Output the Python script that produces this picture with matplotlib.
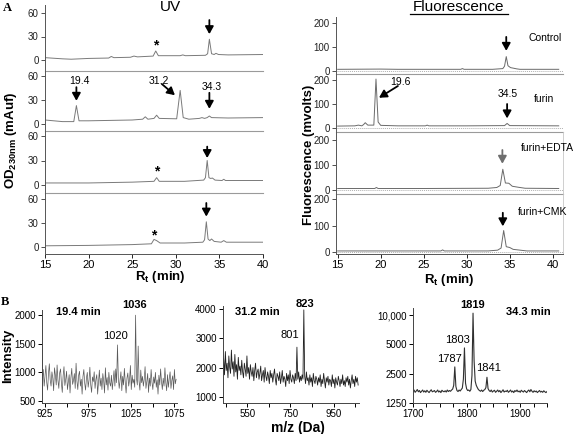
import numpy as np
import matplotlib
matplotlib.use("Agg")
import matplotlib.pyplot as plt
from matplotlib.lines import Line2D

plt.rcParams["font.family"] = ["Liberation Sans", "DejaVu Sans"]
plt.rcParams["mathtext.fontset"] = "custom"
plt.rcParams["mathtext.rm"] = "Liberation Sans"
plt.rcParams["mathtext.bf"] = "Liberation Sans:bold"
plt.rcParams["mathtext.it"] = "Liberation Sans:italic"

W, H = 578, 434

# ---- panel A: UV chromatograms (mAuf) ----
uv_labels = ["control", "furin", "furin+EDTA", "furin+CMK"]
uv1_t = [15, 17, 18, 20, 22.3, 22.6, 22.9, 24.8, 25.2, 25.6, 27.4, 27.7, 28.0, 30.5, 30.8, 31.1,
         33.4, 33.65, 33.85, 34.1, 34.4, 34.6, 34.9, 36, 40]
uv1_v = [3, 1.5, 1, 2, 2.5, 4.5, 3, 3.5, 5, 4, 5, 11.5, 5.5, 5.5, 6.5, 5.5,
         6, 8, 26.5, 8, 7, 8.5, 7, 6.5, 7]
uv2_t = [15, 17, 18.3, 18.6, 18.9, 20, 25, 26.2, 26.5, 26.8, 27.5, 27.8, 28.1, 30.1, 30.5, 30.85,
         31.5, 32.7, 33.0, 33.3, 33.6, 33.85, 34.1, 36, 40]
uv2_v = [5, 3, 3, 23, 4, 4, 5, 6, 9, 6, 7, 11, 7, 6.5, 42, 8,
         6, 7, 8, 7, 8, 10, 8, 7.5, 8]
uv3_t = [15, 20, 25, 27.5, 27.8, 28.1, 31, 33.2, 33.4, 33.6, 33.8, 34.0, 34.2, 34.5, 35.3, 35.5,
         35.7, 37, 40]
uv3_v = [2.5, 2.5, 3.5, 4.5, 9, 4.5, 4.5, 6, 9, 30, 9, 8, 8.5, 6, 5.5, 7,
         5.5, 5.5, 5.5]
uv4_t = [15, 20, 25, 27.2, 27.5, 27.8, 28.2, 31, 33.1, 33.3, 33.5, 33.7, 33.9, 34.1, 34.4, 35.2,
         35.5, 35.8, 37, 40]
uv4_v = [1.5, 2, 3, 4, 9.5, 8, 5, 5, 6, 9, 31.5, 10, 8, 10, 7, 6,
         8, 6, 6, 6]

# ---- panel A: fluorescence chromatograms (mvolts) ----
fl_labels = ["Control", "furin", "furin+EDTA", "furin+CMK"]
fl1_t = [15, 20, 22, 25, 29.3, 29.5, 29.7, 33, 34.2, 34.4, 34.6, 34.8, 35.1, 35.4, 35.8, 36.2, 38, 40.7]
fl1_v = [7, 8, 7, 7, 7, 10, 7, 7, 10, 20, 60, 22, 14, 12, 9, 7, 7, 7]
fl2_t = [15, 17, 17.4, 17.8, 18.0, 18.2, 18.5, 19.2, 19.45, 19.7, 20.0, 22, 25.2, 25.4, 25.6, 30,
         34.4, 34.7, 35.0, 40.7]
fl2_v = [8, 9, 12, 9, 14, 22, 12, 12, 204, 25, 11, 9, 9, 12, 9, 9,
         10, 19, 10, 9]
fl3_t = [15, 19.3, 19.5, 19.7, 25, 32.5, 33.5, 33.9, 34.2, 34.5, 34.9, 35.3, 36, 36.8, 40.7]
fl3_v = [6, 6, 10, 6, 6, 7, 10, 18, 83, 28, 27, 15, 11, 7, 6]
fl4_t = [15, 20, 27, 27.2, 27.4, 32.5, 33.6, 34.0, 34.3, 34.6, 35.0, 35.4, 36.2, 37, 40.7]
fl4_v = [4, 4, 4, 8, 4, 4, 7, 15, 81, 20, 17, 10, 7, 4, 4]

# ---- panel B: mass spectra ----
ms1_mz = np.arange(922, 1078)
ms1_int = [880, 1050, 760, 940, 1120, 820, 690, 980, 1150, 870,
           760, 1010, 900, 680, 1080, 950, 780, 1130, 860, 720,
           990, 1060, 810, 650, 940, 1100, 770, 880, 1020, 700,
           830, 960, 640, 910, 1070, 790, 860, 980, 720, 1160,
           850, 700, 950, 1020, 760, 880, 620, 930, 1050, 810,
           690, 900, 1000, 740, 860, 1090, 780, 650, 920, 840,
           1010, 720, 880, 960, 620, 830, 1040, 760, 900, 700,
           980, 850, 640, 1080, 780, 910, 690, 1000, 820, 760,
           950, 700, 870, 1030, 760, 1060, 820, 1480, 900, 720,
           860, 1010, 680, 930, 780, 1070, 830, 640, 900, 990,
           760, 870, 1120, 700, 950, 810, 880, 740, 2000, 900,
           780, 1460, 850, 690, 1040, 820, 930, 760, 880, 1100,
           720, 840, 980, 650, 900, 760, 1050, 830, 700, 920,
           810, 1000, 740, 870, 620, 950, 780, 1060, 840, 700,
           900, 760, 1080, 820, 680, 960, 740, 890, 1010, 720,
           860, 940, 700, 1050, 800, 880]

ms2_mz = np.arange(440, 1068, 4)
ms2_int = [2300, 1750, 2550, 1900, 2150, 1650, 2400, 2000, 1800, 2600,
           1950, 2200, 1700, 2450, 1850, 2100, 1600, 2350, 1900, 2050,
           1750, 2250, 1850, 1650, 2150, 1950, 1700, 2400, 1800, 2000,
           1600, 2100, 1850, 1700, 2000, 1550, 1900, 2150, 1650, 1850,
           1950, 1600, 1800, 2050, 1550, 1750, 1900, 1500, 2000, 1700,
           1550, 1850, 1700, 1450, 1900, 1650, 1800, 1500, 1750, 1950,
           1600, 1400, 1800, 1700, 1550, 1850, 1450, 1650, 1900, 1500,
           1700, 1600, 1350, 1800, 1550, 1750, 1450, 1900, 1600, 1500,
           1750, 1650, 1450, 1800, 1550, 2700, 1600, 1850, 1500, 1700,
           1550, 1750, 1600, 3980, 1700, 1450, 1850, 1550, 1650, 1400,
           1750, 1500, 1650, 1350, 1800, 1550, 1450, 1700, 1600, 1400,
           1650, 1500, 1750, 1350, 1600, 1450, 1800, 1550, 1300, 1650,
           1500, 1700, 1400, 1600, 1550, 1350, 1750, 1450, 1600, 1300,
           1650, 1500, 1400, 1700, 1550, 1350, 1600, 1450, 1750, 1400,
           1550, 1350, 1650, 1500, 1700, 1400, 1600, 1300, 1550, 1750,
           1450, 1600, 1350, 1700, 1500, 1650, 1400]

ms3_mz = np.arange(1700, 1951, 2)
ms3_int = [1640, 1700, 1610, 1660, 1720, 1630, 1680, 1600, 1650, 1700,
           1620, 1670, 1610, 1690, 1640, 1600, 1660, 1710, 1630, 1650,
           1680, 1610, 1640, 1700, 1620, 1660, 1600, 1690, 1650, 1630,
           1670, 1620, 1700, 1640, 1680, 1650, 1700, 1740, 1900, 2940,
           1850, 1680, 1640, 1700, 1660, 1720, 1780, 2200, 4610, 2000,
           1750, 1680, 1700, 1650, 1720, 2400, 10500, 3400, 2100, 1900,
           1800, 1720, 1680, 1650, 1700, 1640, 1690, 1720, 1800, 2300,
           1760, 1680, 1640, 1700, 1620, 1660, 1690, 1610, 1650, 1700,
           1630, 1680, 1600, 1650, 1710, 1620, 1660, 1640, 1690, 1610,
           1650, 1700, 1620, 1660, 1600, 1680, 1640, 1700, 1630, 1660,
           1610, 1690, 1650, 1620, 1680, 1640, 1600, 1660, 1700, 1630,
           1720, 1650, 1610, 1670, 1630, 1660, 1600, 1640, 1680, 1620,
           1650, 1610, 1670, 1630, 1600, 1640]


fig = plt.figure(figsize=(W / 100, H / 100), dpi=100)


def box(left, top, right, bottom):
    return fig.add_axes([left / W, 1 - bottom / H, (right - left) / W, (bottom - top) / H])


def ftext(x, y, s, **kw):
    kw.setdefault("ha", "center")
    kw.setdefault("va", "center")
    fig.text(x / W, 1 - y / H, s, **kw)


def arrow(ax, x0, y0, x1, y1, color="k"):
    ax.annotate("", xy=(x1, y1), xytext=(x0, y0),
                arrowprops=dict(arrowstyle="-|>,head_length=0.45,head_width=0.25",
                                color=color, lw=1.3, shrinkA=0, shrinkB=0))


def style_chrom(ax, last, sep_style):
    for side in ("top", "right"):
        ax.spines[side].set_visible(False)
    ax.spines["left"].set_color("#555555")
    ax.spines["left"].set_linewidth(0.7)
    ax.tick_params(axis="y", direction="out", length=3, width=0.6, labelsize=7, pad=1.5,
                   colors="#333333", labelcolor="#222222")
    if last:
        ax.spines["bottom"].set_color("#555555")
        ax.spines["bottom"].set_linewidth(0.7)
        ax.tick_params(axis="x", direction="out", length=3, width=0.6, labelsize=8, pad=1.5)
    else:
        ax.spines["bottom"].set_color("#9a9a9a")
        ax.spines["bottom"].set_linewidth(0.8)
        ax.spines["bottom"].set_linestyle(sep_style)
        ax.tick_params(axis="x", length=0, labelbottom=False)
    ax.patch.set_alpha(0)


# UV panels: (box top, box bottom, pixel of 60, pixel of 0)
uv_rows = [(5, 71, 13, 60), (71, 131, 76, 124), (131, 193, 136, 185), (193, 254, 199, 247)]
uv_data = [(uv1_t, uv1_v), (uv2_t, uv2_v), (uv3_t, uv3_v), (uv4_t, uv4_v)]
uv_axes = []
for i, (t, v) in enumerate(uv_data):
    top, bot, p_hi, p_0 = uv_rows[i]
    ax = box(45, top, 263, bot)
    s = (p_0 - p_hi) / 60
    ax.set_ylim(-(bot - p_0) / s, 60 + (p_hi - top) / s)
    ax.set_xlim(15, 40)
    ax.plot(t, v, color="#7a7a7a", lw=0.7)
    ax.set_yticks([0, 30, 60])
    ax.set_xticks([15, 20, 25, 30, 35, 40])
    style_chrom(ax, i == 3, "solid")
    uv_axes.append(ax)

# UV annotations
arrow(uv_axes[0], 33.85, 51, 33.85, 33)
uv_axes[0].text(27.7, 19, "*", ha="center", va="center", fontsize=10, fontweight="bold")
arrow(uv_axes[1], 18.6, 46, 18.6, 29)
uv_axes[1].text(18.9, 54, "19.4", ha="center", va="center", fontsize=7.5)
arrow(uv_axes[1], 28.4, 50, 29.9, 36)
uv_axes[1].text(28.1, 54, "31.2", ha="center", va="center", fontsize=7.5)
arrow(uv_axes[1], 33.85, 39, 33.85, 19)
uv_axes[1].text(34.15, 46, "34.3", ha="center", va="center", fontsize=7.5)
arrow(uv_axes[2], 33.6, 47, 33.6, 33)
uv_axes[2].text(27.8, 16, "*", ha="center", va="center", fontsize=10, fontweight="bold")
arrow(uv_axes[3], 33.5, 55, 33.5, 38)
uv_axes[3].text(27.5, 15, "*", ha="center", va="center", fontsize=10, fontweight="bold")

# Fluorescence panels
fl_rows = [(17, 74, 23, 71), (74, 132, 80, 128), (132, 194, 140, 190), (194, 254, 199, 252)]
fl_data = [(fl1_t, fl1_v), (fl2_t, fl2_v), (fl3_t, fl3_v), (fl4_t, fl4_v)]
fl_axes = []
for i, (t, v) in enumerate(fl_data):
    top, bot, p_hi, p_0 = fl_rows[i]
    ax = box(336, top, 563, bot)
    s = (p_0 - p_hi) / 200
    ax.set_ylim(-(bot - p_0) / s, 200 + (p_hi - top) / s)
    ax.set_xlim(14.8, 41.2)
    ax.axhline(0, color="#b0b0b0", lw=0.7, ls=(0, (1, 1)))
    ax.plot(t, v, color="#6a6a6a", lw=0.7)
    ax.set_yticks([0, 100, 200])
    ax.set_xticks([15, 20, 25, 30, 35, 40])
    style_chrom(ax, i == 3, (0, (1, 1)))
    if i >= 2:
        ax.spines["right"].set_visible(True)
        ax.spines["right"].set_color("#c8c8c8")
        ax.spines["right"].set_linewidth(0.6)
    fl_axes.append(ax)

arrow(fl_axes[0], 34.6, 142, 34.6, 84)
arrow(fl_axes[1], 22.0, 175, 19.8, 126)
arrow(fl_axes[1], 34.7, 100, 34.7, 40)
arrow(fl_axes[2], 34.15, 160, 34.15, 105, color="#6e6e6e")
arrow(fl_axes[3], 34.2, 148, 34.2, 97)
ftext(545, 38, fl_labels[0], fontsize=7.5)
ftext(400, 82, "19.6", fontsize=7.5)
ftext(508, 94, "34.5", fontsize=7.5)
ftext(544, 99, fl_labels[1], fontsize=7.5)
ftext(547, 148, fl_labels[2], fontsize=7.5)
ftext(543, 212, fl_labels[3], fontsize=7.5)

# Panel A titles and labels
ftext(7, 8, "A", fontsize=9, fontweight="bold", family="Liberation Serif")
ftext(170, 7, "UV", fontsize=11)
ftext(459, 7, "Fluorescence", fontsize=11)
fig.add_artist(Line2D([410 / W, 508 / W], [1 - 13.5 / H, 1 - 13.5 / H], color="k", lw=0.9))
ftext(11, 140, r"$\mathbf{OD_{230nm}}$ (mAuf)", fontsize=9.5, fontweight="bold", rotation=90)
ftext(309, 155, "Fluorescence (mvolts)", fontsize=9.5, fontweight="bold", rotation=90)
ftext(160, 277, r"$\mathbf{R_t}$ (min)", fontsize=9.5, fontweight="bold")
ftext(449, 280, r"$\mathbf{R_t}$ (min)", fontsize=9.5, fontweight="bold")


# Panel B: mass spectra
def style_ms(ax):
    for side in ("top", "right"):
        ax.spines[side].set_visible(False)
    for side in ("left", "bottom"):
        ax.spines[side].set_color("#444444")
        ax.spines[side].set_linewidth(0.7)
    ax.tick_params(direction="out", length=3, width=0.7, labelsize=7, pad=1.5)
    ax.tick_params(which="minor", direction="out", length=3, width=0.7)
    ax.patch.set_alpha(0)


ax1 = box(42, 310, 177, 403)
ax1.plot(ms1_mz, ms1_int, color="#5a5a5a", lw=0.5)
ax1.set_xlim(921.5, 1078)
ax1.set_ylim(465, 2090)
ax1.set_yticks([500, 1000, 1500, 2000])
ax1.set_xticks([925, 975, 1025, 1075])
ax1.set_xticks([950, 1000, 1050], minor=True)
style_ms(ax1)

ax2 = box(223, 306, 359, 403)
ax2.plot(ms2_mz, ms2_int, color="#202020", lw=0.6)
ax2.set_xlim(437, 1068)
ax2.set_ylim(784, 4113)
ax2.set_yticks([1000, 2000, 3000, 4000])
ax2.set_xticks([550, 750, 950])
ax2.set_xticks([450, 650, 850, 1050], minor=True)
style_ms(ax2)

ax3 = box(413, 308, 547, 403)
ax3.plot(ms3_mz, ms3_int, color="#303030", lw=0.8)
ax3.set_yscale("log", base=2)
ax3.set_xlim(1700, 1950)
ax3.set_ylim(1250, 11870)
ax3.set_yticks([1250, 2500, 5000, 10000])
ax3.set_yticklabels(["1250", "2500", "5000", "10,000"])
ax3.yaxis.set_minor_locator(matplotlib.ticker.NullLocator())
ax3.set_xticks([1700, 1800, 1900])
ax3.set_xticks([1725, 1750, 1775, 1825, 1850, 1875, 1925, 1950], minor=True)
style_ms(ax3)

ftext(5, 302, "B", fontsize=9, fontweight="bold", family="Liberation Serif")
ftext(78, 312, "19.4 min", fontsize=8, fontweight="bold")
ftext(135, 305, "1036", fontsize=8, fontweight="bold")
ftext(115, 336, "1020", fontsize=8)
ftext(257, 312, "31.2 min", fontsize=8, fontweight="bold")
ftext(305, 304, "823", fontsize=8, fontweight="bold")
ftext(290, 335, "801", fontsize=8)
ftext(473, 305, "1819", fontsize=8, fontweight="bold")
ftext(528, 312, "34.3 min", fontsize=8, fontweight="bold")
ftext(458, 340, "1803", fontsize=8)
ftext(449, 359, "1787", fontsize=8)
ftext(489, 368, "1841", fontsize=8)
ftext(8, 356, "Intensity", fontsize=9.5, fontweight="bold", rotation=90)
ftext(298, 428, "m/z (Da)", fontsize=10, fontweight="bold")

fig.savefig("out.png", dpi=100)
